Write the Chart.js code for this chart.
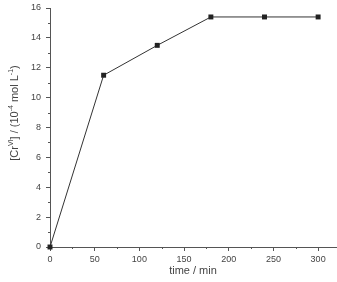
<!DOCTYPE html>
<html lang="en">
<head>
  <meta charset="UTF-8">
  <title>Cr(VI) vs time</title>
  <script src="https://cdn.jsdelivr.net/npm/chart.js"></script>
  <style>
    html, body {
      margin: 0;
      padding: 0;
      background: #fff;
    }
    #wrap {
      width: 337px;
      height: 282px;
    }
  </style>
</head>
<body>
  <div id="wrap"><canvas id="crChart"></canvas></div>

  <script>
    // data
    const times = [0, 60, 120, 180, 240, 300];
    const crValues = [0, 11.5, 13.5, 15.4, 15.4, 15.4];
    const xMinorTicks = [25, 75, 125, 175, 225, 275];
    const yMinorTicks = [1, 3, 5, 7, 9, 11, 13, 15];

    const axisColor = '#555';
    const textColor = '#444';
    const font = 'Arial, "Liberation Sans", sans-serif';

    // short minor ticks + y title with superscripts
    const extras = {
      id: 'extras',
      afterDraw(chart) {
        const ctx = chart.ctx;
        const xs = chart.scales.x;
        const ys = chart.scales.y;
        const area = chart.chartArea;
        ctx.save();
        ctx.strokeStyle = axisColor;
        ctx.lineWidth = 1;
        ctx.beginPath();
        xMinorTicks.forEach(v => {
          const px = Math.round(xs.getPixelForValue(v)) + 0.5;
          ctx.moveTo(px, area.bottom);
          ctx.lineTo(px, area.bottom + 2);
        });
        yMinorTicks.forEach(v => {
          const py = Math.round(ys.getPixelForValue(v)) + 0.5;
          ctx.moveTo(area.left, py);
          ctx.lineTo(area.left - 2, py);
        });
        ctx.stroke();

        // y title
        const parts = [
          ['[Cr', false], ['VI', true], ['] / (10', false], ['-4', true],
          [' mol L', false], ['-1', true], [')', false]
        ];
        const big = '11px ' + font;
        const small = '7px ' + font;
        let total = 0;
        parts.forEach(p => {
          ctx.font = p[1] ? small : big;
          total += ctx.measureText(p[0]).width;
        });
        ctx.translate(18, 113);
        ctx.rotate(-Math.PI / 2);
        ctx.fillStyle = textColor;
        ctx.textBaseline = 'alphabetic';
        let x = -total / 2;
        parts.forEach(p => {
          ctx.font = p[1] ? small : big;
          ctx.fillText(p[0], x, p[1] ? -5 : 0);
          x += ctx.measureText(p[0]).width;
        });
        ctx.restore();
      }
    };

    new Chart(document.getElementById('crChart'), {
      type: 'line',
      data: {
        labels: times,
        datasets: [{
          data: times.map((t, i) => ({ x: t, y: crValues[i] })),
          borderColor: '#333',
          borderWidth: 1,
          backgroundColor: '#222',
          pointStyle: 'rect',
          pointRadius: 3.5,
          pointBorderWidth: 0,
          clip: false,
          tension: 0
        }]
      },
      options: {
        responsive: true,
        maintainAspectRatio: false,
        animation: false,
        layout: {
          autoPadding: false,
          padding: { top: 8, right: 1, left: 0, bottom: 0 }
        },
        plugins: {
          legend: { display: false },
          tooltip: { enabled: false }
        },
        scales: {
          x: {
            type: 'linear',
            min: 0,
            max: 320,
            afterFit: s => { s.height = 35; s.paddingRight = 0; s.paddingLeft = 0; },
            grid: {
              drawOnChartArea: false,
              color: axisColor,
              tickLength: 4,
              tickColor: axisColor
            },
            border: { color: axisColor, width: 1 },
            ticks: {
              stepSize: 50,
              includeBounds: false,
              color: textColor,
              font: { family: font, size: 9 },
              padding: 3,
              maxRotation: 0
            },
            title: {
              display: true,
              text: 'time / min',
              color: textColor,
              font: { family: font, size: 11 },
              padding: { top: 0, bottom: 4 }
            }
          },
          y: {
            min: 0,
            max: 16,
            afterFit: s => { s.width = 50; s.paddingTop = 0; s.paddingBottom = 0; },
            grid: {
              drawOnChartArea: false,
              color: axisColor,
              tickLength: 4,
              tickColor: axisColor
            },
            border: { color: axisColor, width: 1 },
            ticks: {
              stepSize: 2,
              color: textColor,
              font: { family: font, size: 9 },
              padding: 5
            }
          }
        }
      },
      plugins: [extras]
    });
  </script>
</body>
</html>
